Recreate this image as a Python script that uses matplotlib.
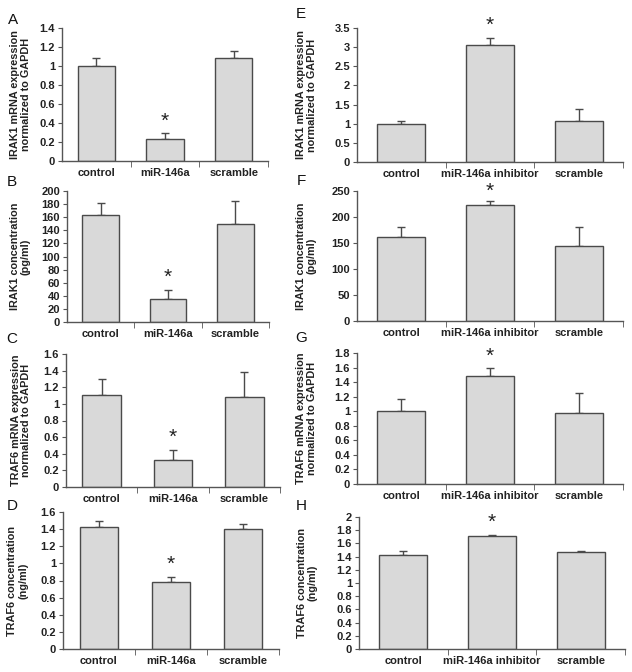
import numpy as np
import matplotlib
matplotlib.use("Agg")
import matplotlib.pyplot as plt

plt.rcParams['font.family'] = ['Liberation Sans', 'DejaVu Sans']

groups_left = ["control", "miR-146a", "scramble"]
groups_right = ["control", "miR-146a inhibitor", "scramble"]

# panel data: means and upper error
irak1_mrna_mimic = [1.00, 0.23, 1.08]
irak1_mrna_mimic_err = [0.08, 0.06, 0.08]
irak1_prot_mimic = [163, 35, 149]
irak1_prot_mimic_err = [19, 14, 35]
traf6_mrna_mimic = [1.11, 0.33, 1.08]
traf6_mrna_mimic_err = [0.19, 0.12, 0.30]
traf6_prot_mimic = [1.43, 0.78, 1.40]
traf6_prot_mimic_err = [0.06, 0.06, 0.06]

irak1_mrna_inhib = [1.00, 3.05, 1.07]
irak1_mrna_inhib_err = [0.08, 0.20, 0.32]
irak1_prot_inhib = [162, 223, 145]
irak1_prot_inhib_err = [19, 8, 36]
traf6_mrna_inhib = [1.00, 1.48, 0.98]
traf6_mrna_inhib_err = [0.17, 0.11, 0.27]
traf6_prot_inhib = [1.43, 1.71, 1.47]
traf6_prot_inhib_err = [0.06, 0.02, 0.02]

W, H = 632, 672
fig = plt.figure(figsize=(W / 100, H / 100), dpi=100)


def make_panel(px, letter, lpos, vals, errs, groups, ymax, ystep, ylabel, labx, star_off=2):
    x0, x1, ytop, y0 = px
    ax = fig.add_axes([x0 / W, 1 - y0 / H, (x1 - x0) / W, (y0 - ytop) / H])
    x = np.arange(3)
    ax.bar(x, vals, width=0.54, color="#d9d9d9", edgecolor="#4a4a4a", linewidth=1.0, zorder=2)
    ax.errorbar(x, vals, yerr=[np.zeros(3), errs], fmt="none", ecolor="#4a4a4a",
                elinewidth=1.0, capsize=3, capthick=1.0, zorder=1)
    ax.set_xlim(-0.5, 2.5)
    ax.set_ylim(0, ymax)
    ticks = np.arange(0, ymax + ystep / 2, ystep)
    ax.set_yticks(ticks)
    ax.set_yticklabels([("%g" % t) for t in ticks])
    ax.set_xticks(x)
    ax.set_xticklabels(groups)
    ax.set_xticks([0.5, 1.5, 2.5], minor=True)
    ax.tick_params(axis="x", which="major", length=0, pad=5)
    ax.tick_params(axis="x", which="minor", length=4, direction="out", color="#555555")
    ax.tick_params(axis="y", length=3, direction="out", color="#555555", pad=2)
    for lab in ax.get_xticklabels() + ax.get_yticklabels():
        lab.set_fontsize(8)
        lab.set_fontweight("bold")
        lab.set_color("#222222")
    for s in ["top", "right"]:
        ax.spines[s].set_visible(False)
    for s in ["left", "bottom"]:
        ax.spines[s].set_color("#555555")
        ax.spines[s].set_linewidth(1.0)
    ax.set_ylabel(ylabel, fontsize=7.8, fontweight="bold", color="#222222", va="center",
                  linespacing=1.1)
    ax.yaxis.set_label_coords(labx, 0.5)
    ax.annotate("*", xy=(1, vals[1] + errs[1]), xytext=(0, star_off), textcoords="offset points",
                ha="center", va="bottom", fontsize=15, color="#222222", annotation_clip=False)
    fig.text(lpos[0] / W, 1 - lpos[1] / H, letter, fontsize=11, ha="center", va="center",
             color="#111111")
    return ax


make_panel((62, 268, 28, 161), "A", (13, 20), irak1_mrna_mimic, irak1_mrna_mimic_err,
           groups_left, 1.4, 0.2, "IRAK1 mRNA expression\nnormalized to GAPDH", -0.2)
make_panel((67, 269, 191, 322), "B", (12, 182), irak1_prot_mimic, irak1_prot_mimic_err,
           groups_left, 200, 20, "IRAK1 concentration\n(pg/ml)", -0.23)
make_panel((66, 280, 354, 487), "C", (12, 339), traf6_mrna_mimic, traf6_mrna_mimic_err,
           groups_left, 1.6, 0.2, "TRAF6 mRNA expression\nnormalized to GAPDH", -0.21)
make_panel((63, 279, 512, 649), "D", (12, 506), traf6_prot_mimic, traf6_prot_mimic_err,
           groups_left, 1.6, 0.2, "TRAF6 concentration\n(ng/ml)", -0.21)

make_panel((357, 623, 28, 162), "E", (301, 14), irak1_mrna_inhib, irak1_mrna_inhib_err,
           groups_right, 3.5, 0.5, "IRAK1 mRNA expression\nnormalized to GAPDH", -0.19)
make_panel((357, 623, 191, 321), "F", (301, 181), irak1_prot_inhib, irak1_prot_inhib_err,
           groups_right, 250, 50, "IRAK1 concentration\n(pg/ml)", -0.19, star_off=0)
make_panel((357, 623, 353, 484), "G", (301, 338), traf6_mrna_inhib, traf6_mrna_inhib_err,
           groups_right, 1.8, 0.2, "TRAF6 mRNA expression\nnormalized to GAPDH", -0.19)
make_panel((359, 625, 517, 649), "H", (301, 506), traf6_prot_inhib, traf6_prot_inhib_err,
           groups_right, 2.0, 0.2, "TRAF6 concentration\n(ng/ml)", -0.195)

fig.savefig("out.png", dpi=100)
